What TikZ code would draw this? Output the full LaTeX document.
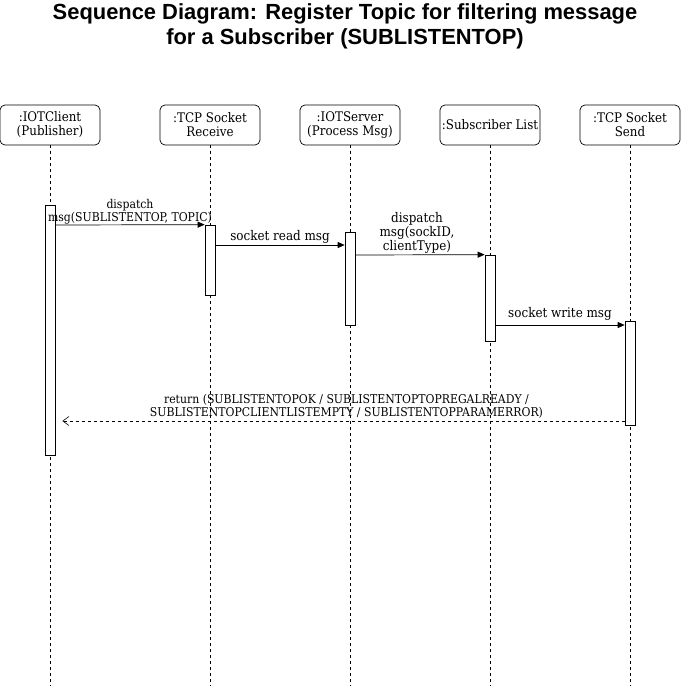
\documentclass[tikz,border=0pt]{standalone}
\usepackage{fontspec}
\setmainfont{DejaVu Serif Condensed}
\newfontfamily\titlefont{Liberation Sans}
\usetikzlibrary{arrows.meta}
\begin{document}
\begin{tikzpicture}[x=1pt,y=-1pt,
  actor/.style={draw,rounded corners=5pt,minimum width=100pt,minimum height=40pt,align=center,inner sep=1pt,font=\fontsize{13.2}{14}\selectfont,line width=0.7pt},
  lifeline/.style={dashed,line width=0.6pt,dash pattern=on 3pt off 3pt},
  act/.style={draw,fill=white,line width=0.7pt,minimum width=10pt,inner sep=0pt},
  msg/.style={-{Triangle[length=7pt,width=6pt]},line width=0.7pt},
  ret/.style={-{Straight Barb[length=6pt,width=9pt]},dashed,dash pattern=on 3pt off 3pt,line width=0.6pt},
  lbl/.style={align=center,inner sep=0pt,font=\fontsize{13.3}{14}\selectfont},
  slbl/.style={align=center,inner sep=0pt,font=\fontsize{12.1}{13}\selectfont}]
\useasboundingbox (0,0) rectangle (681,686);
\fill[white] (0,0) rectangle (681,686);
\node[font=\titlefont\bfseries\fontsize{21.9}{25}\selectfont,align=center] (title) at (345,26) {Sequence Diagram: Register Topic for filtering message\\for a Subscriber (SUBLISTENTOP)};
% actors
\node[actor] (a1) at (50,125) {:IOTClient\\(Publisher)};
\node[actor] (a2) at (210,125) {:TCP Socket\\Receive};
\node[actor] (a3) at (350,125) {:IOTServer\\(Process Msg)};
\node[actor] (a4) at (490,125) {:Subscriber List};
\node[actor] (a5) at (630,125) {:TCP Socket\\Send};
% lifelines
\foreach \i/\x in {1/50,2/210,3/350,4/490,5/630}{
  \coordinate (e\i) at (\x,686);
  \draw[lifeline] (a\i.south) -- (e\i);
}
% activations
\node[act,minimum height=250pt] (b1) at (50,330) {};
\node[act,minimum height=70pt] (b2) at (210,260) {};
\node[act,minimum height=93pt] (b3) at (350,278.5) {};
\node[act,minimum height=86pt] (b4) at (490,298) {};
\node[act,minimum height=104pt] (b5) at (630,373) {};
% messages
\draw[msg] (b1.east |- 0,225) -- (b2.north west) node[slbl,midway,above=0.5pt] {dispatch\\msg(SUBLISTENTOP, TOPIC)};
\draw[msg] (b2.east |- 0,245) -- (b3.west |- 0,245) node[lbl,midway,above=1.5pt] {socket read msg};
\draw[msg] (b3.east |- 0,255) -- (b4.north west) node[lbl,midway,above=1pt,xshift=-3pt] {dispatch\\msg(sockID,\\clientType)};
\draw[msg] (b4.east |- 0,325) -- (b5.west |- 0,325) node[lbl,midway,above=4.5pt] {socket write msg};
\draw[ret] (b5.west |- 0,421) -- ([xshift=7pt]b1.east |- 0,421) coordinate (r) node[slbl,midway,above=2pt,xshift=3pt] {return (SUBLISTENTOPOK / SUBLISTENTOPTOPREGALREADY /\\SUBLISTENTOPCLIENTLISTEMPTY / SUBLISTENTOPPARAMERROR)};
\end{tikzpicture}
\end{document}
